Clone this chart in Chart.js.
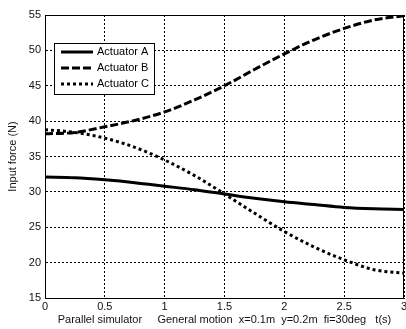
<!DOCTYPE html>
<html>
<head>
<meta charset="utf-8">
<script src="https://cdn.jsdelivr.net/npm/chart.js@4"></script>
<style>
  html, body { margin: 0; padding: 0; background: #fff; }
  #wrap { width: 406px; height: 329px; }
</style>
</head>
<body>
<div id="wrap"><canvas id="myChart" width="406" height="329"></canvas></div>
<script>
const TIME = [0, 0.25, 0.5, 0.75, 1, 1.25, 1.5, 1.75, 2, 2.25, 2.5, 2.75, 3];
const ACTUATOR_A = [32.1, 32.0, 31.7, 31.3, 30.8, 30.3, 29.7, 29.1, 28.6, 28.2, 27.8, 27.6, 27.5];
const ACTUATOR_B = [38.2, 38.4, 39.2, 40.1, 41.3, 43.0, 45.0, 47.3, 49.5, 51.5, 53.1, 54.3, 54.9];
const ACTUATOR_C = [38.8, 38.4, 37.6, 36.3, 34.5, 32.3, 29.7, 27.0, 24.4, 22.2, 20.4, 19.0, 18.5];
const LABELS = ["Actuator A", "Actuator B", "Actuator C"];
const Y_TICKS = [15, 20, 25, 30, 35, 40, 45, 50, 55];
const X_TICKS = [0, 0.5, 1, 1.5, 2, 2.5, 3];

const FONT = { family: "Liberation Sans, Arial, sans-serif", size: 11 };

function pts(ys) {
  return TIME.map((t, i) => ({ x: t, y: ys[i] }));
}

// box round the plot area, MATLAB style
const frame = {
  id: "frame",
  afterDraw(chart) {
    const { ctx, chartArea: a } = chart;
    ctx.save();
    ctx.strokeStyle = "#000";
    ctx.lineWidth = 1;
    ctx.strokeRect(a.left + 0.5, a.top + 0.5, a.right - a.left - 1, a.bottom - a.top);
    ctx.restore();
  }
};

// legend drawn from the datasets' own styles
const boxLegend = {
  id: "boxLegend",
  afterDraw(chart) {
    const { ctx } = chart;
    const x0 = 54, y0 = 43, w = 100, h = 51;
    ctx.save();
    ctx.fillStyle = "#fff";
    ctx.fillRect(x0, y0, w, h);
    ctx.strokeStyle = "#000";
    ctx.lineWidth = 1;
    ctx.strokeRect(x0 + 0.5, y0 + 0.5, w, h);
    ctx.font = FONT.size + "px " + FONT.family;
    ctx.textBaseline = "middle";
    chart.data.datasets.forEach((ds, i) => {
      const y = y0 + 9 + i * 16;
      ctx.beginPath();
      ctx.setLineDash(ds.borderDash || []);
      ctx.lineWidth = ds.borderWidth;
      ctx.strokeStyle = ds.borderColor;
      ctx.moveTo(61, y);
      ctx.lineTo(93, y);
      ctx.stroke();
      ctx.setLineDash([]);
      ctx.fillStyle = "#000";
      ctx.fillText(ds.label, 97, y);
    });
    ctx.restore();
  }
};

const data = {
  datasets: [
    { label: LABELS[0], data: pts(ACTUATOR_A), borderDash: [] },
    { label: LABELS[1], data: pts(ACTUATOR_B), borderDash: [8, 3] },
    { label: LABELS[2], data: pts(ACTUATOR_C), borderDash: [3, 3] },
  ].map(d => Object.assign(d, {
    borderColor: "#000",
    borderWidth: 3,
    borderCapStyle: "butt",
    pointRadius: 0,
    cubicInterpolationMode: "monotone",
    fill: false,
  })),
};

const config = {
  type: "line",
  data: data,
  options: {
    responsive: false,
    animation: false,
    layout: { padding: { top: 15, right: 2, left: 0, bottom: 0 } },
    plugins: {
      legend: { display: false },
      tooltip: { enabled: false },
    },
    scales: {
      x: {
        type: "linear",
        min: 0,
        max: 3,
        afterBuildTicks: s => { s.ticks = X_TICKS.map(v => ({ value: v })); },
        afterFit: s => { s.height = 31; s.paddingLeft = 0; s.paddingRight = 0; },
        grid: { color: "#000", drawTicks: false },
        border: { display: true, color: "#000", dash: [2, 2] },
        ticks: { color: "#111", font: FONT, padding: 2, maxRotation: 0, callback: v => String(v) },
        title: {
          display: true,
          text: "Parallel simulator     General motion  x=0.1m  y=0.2m  fi=30deg   t(s)",
          color: "#111",
          font: FONT,
          padding: { top: 0, bottom: 2 },
        },
      },
      y: {
        min: 15,
        max: 55,
        afterBuildTicks: s => { s.ticks = Y_TICKS.map(v => ({ value: v })); },
        afterFit: s => { s.width = 45; s.paddingTop = 0; s.paddingBottom = 0; },
        grid: { color: "#000", drawTicks: false },
        border: { display: true, color: "#000", dash: [2, 2] },
        ticks: { color: "#111", font: FONT, padding: 4 },
        title: {
          display: true,
          text: "Input force (N)",
          color: "#111",
          font: FONT,
          padding: { top: 6, bottom: 0 },
        },
      },
    },
  },
  plugins: [frame, boxLegend],
};

const myChart = new Chart(document.getElementById("myChart"), config);
</script>
</body>
</html>
